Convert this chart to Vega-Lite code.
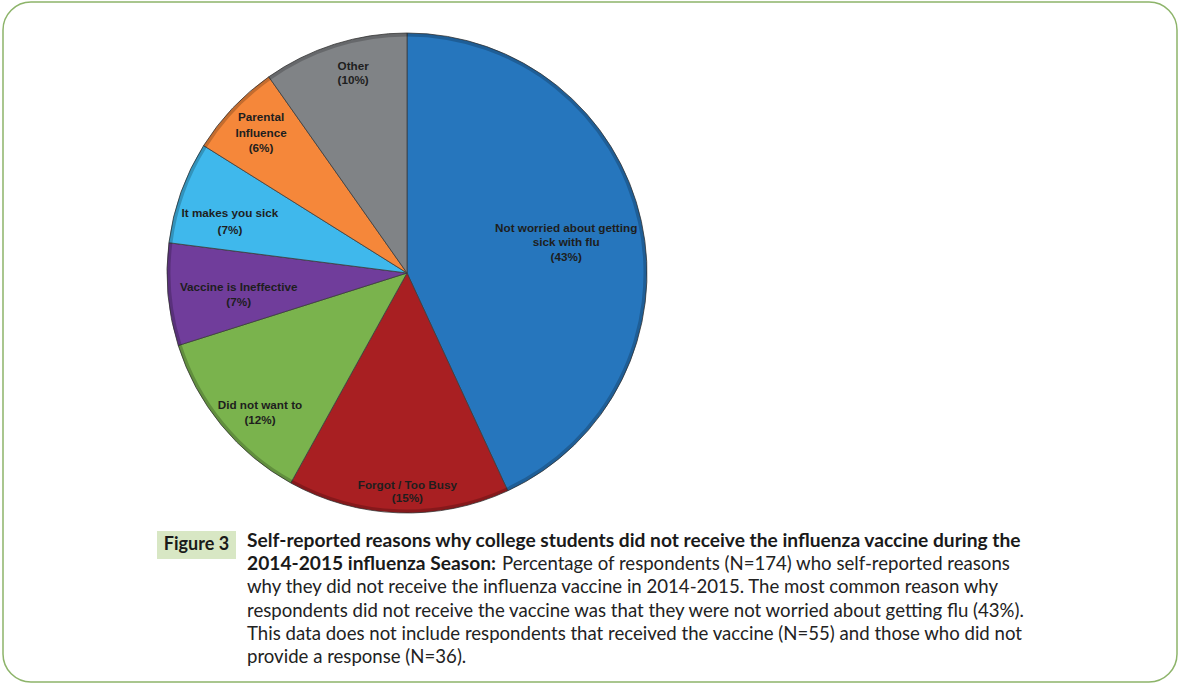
{
  "$schema": "https://vega.github.io/schema/vega-lite/v6.json",
  "width": 1178,
  "height": 683,
  "autosize": {"type": "fit", "contains": "padding"},
  "padding": {"left": 3, "top": 2, "right": 1, "bottom": 1},
  "background": "white",
  "config": {
    "view": {"stroke": "#8db46a", "strokeWidth": 1.5, "cornerRadius": 28}
  },
  "datasets": {
    "pie": [
      {"reason": "Not worried about getting sick with flu", "label": "Not worried about getting\nsick with flu\n(43%)", "n": 75, "ord": 1},
      {"reason": "Forgot / Too Busy", "label": "Forgot / Too Busy\n(15%)", "n": 26, "ord": 2},
      {"reason": "Did not want to", "label": "Did not want to\n(12%)", "n": 21, "ord": 3},
      {"reason": "Vaccine is Ineffective", "label": "Vaccine is Ineffective\n(7%)", "n": 12, "ord": 4},
      {"reason": "It makes you sick", "label": "It makes you sick\n(7%)", "n": 12, "ord": 5},
      {"reason": "Parental Influence", "label": "Parental\nInfluence\n(6%)", "n": 11, "ord": 6},
      {"reason": "Other", "label": "Other\n(10%)", "n": 17, "ord": 7}
    ],
    "caption": [
      {"line": 1, "style": "bold", "text": "Self-reported reasons why college students did not receive the influenza vaccine during the"},
      {"line": 2, "style": "bold", "text": "2014-2015 influenza Season:"},
      {"line": 2, "style": "cont", "text": "Percentage of respondents (N=174) who self-reported reasons"},
      {"line": 3, "style": "regular", "text": "why they did not receive the influenza vaccine in 2014-2015. The most common reason why"},
      {"line": 4, "style": "regular", "text": "respondents did not receive the vaccine was that they were not worried about getting flu (43%)."},
      {"line": 5, "style": "regular", "text": "This data does not include respondents that received the vaccine (N=55) and those who did not"},
      {"line": 6, "style": "regular", "text": "provide a response (N=36)."}
    ]
  },
  "layer": [
    {
      "data": {"name": "pie"},
      "encoding": {
        "x": {"value": 404},
        "y": {"value": 271},
        "theta": {"field": "n", "type": "quantitative", "stack": true},
        "order": {"field": "ord", "type": "quantitative"}
      },
      "layer": [
        {
          "mark": {"type": "arc", "radius": 240, "stroke": "#3c3c3c", "strokeWidth": 0.8},
          "encoding": {
            "color": {
              "field": "reason",
              "type": "nominal",
              "legend": null,
              "scale": {
                "domain": ["Not worried about getting sick with flu", "Forgot / Too Busy", "Did not want to", "Vaccine is Ineffective", "It makes you sick", "Parental Influence", "Other"],
                "range": ["#2676bd", "#a81f22", "#7ab34d", "#703d9b", "#3fb8ec", "#f5873a", "#808386"]
              }
            }
          }
        },
        {
          "mark": {"type": "arc", "radius": 240, "radius2": 236.5, "fill": "#000000", "fillOpacity": 0.2, "stroke": null},
          "encoding": {"detail": {"field": "reason", "type": "nominal"}}
        },
        {
          "mark": {"type": "text", "radius": 163, "dy": -10, "font": "Liberation Sans", "fontWeight": "bold", "fontSize": 11.7, "lineHeight": 14.5, "fill": "#1e1e1e", "lineBreak": "\n"},
          "encoding": {
            "detail": {"field": "reason", "type": "nominal"},
            "text": {"condition": {"test": "datum.ord === 1", "field": "label"}, "value": ""}
          }
        },
        {
          "mark": {"type": "text", "radius": 212, "dx": 8, "dy": 0, "font": "Liberation Sans", "fontWeight": "bold", "fontSize": 11.7, "lineHeight": 13.5, "fill": "#1e1e1e", "lineBreak": "\n"},
          "encoding": {
            "detail": {"field": "reason", "type": "nominal"},
            "text": {"condition": {"test": "datum.ord === 2", "field": "label"}, "value": ""}
          }
        },
        {
          "mark": {"type": "text", "radius": 190, "dy": 12, "font": "Liberation Sans", "fontWeight": "bold", "fontSize": 11.7, "lineHeight": 15, "fill": "#1e1e1e", "lineBreak": "\n"},
          "encoding": {
            "detail": {"field": "reason", "type": "nominal"},
            "text": {"condition": {"test": "datum.ord === 3", "field": "label"}, "value": ""}
          }
        },
        {
          "mark": {"type": "text", "radius": 169, "dy": -1, "font": "Liberation Sans", "fontWeight": "bold", "fontSize": 11.7, "lineHeight": 15, "fill": "#1e1e1e", "lineBreak": "\n"},
          "encoding": {
            "detail": {"field": "reason", "type": "nominal"},
            "text": {"condition": {"test": "datum.ord === 4", "field": "label"}, "value": ""}
          }
        },
        {
          "mark": {"type": "text", "radius": 188, "dy": 3, "font": "Liberation Sans", "fontWeight": "bold", "fontSize": 11.7, "lineHeight": 17, "fill": "#1e1e1e", "lineBreak": "\n"},
          "encoding": {
            "detail": {"field": "reason", "type": "nominal"},
            "text": {"condition": {"test": "datum.ord === 5", "field": "label"}, "value": ""}
          }
        },
        {
          "mark": {"type": "text", "radius": 201, "dy": -17.5, "font": "Liberation Sans", "fontWeight": "bold", "fontSize": 11.7, "lineHeight": 15.5, "fill": "#1e1e1e", "lineBreak": "\n"},
          "encoding": {
            "detail": {"field": "reason", "type": "nominal"},
            "text": {"condition": {"test": "datum.ord === 6", "field": "label"}, "value": ""}
          }
        },
        {
          "mark": {"type": "text", "radius": 208, "dx": 9, "dy": -9, "font": "Liberation Sans", "fontWeight": "bold", "fontSize": 11.7, "lineHeight": 14, "fill": "#1e1e1e", "lineBreak": "\n"},
          "encoding": {
            "detail": {"field": "reason", "type": "nominal"},
            "text": {"condition": {"test": "datum.ord === 7", "field": "label"}, "value": ""}
          }
        }
      ]
    },
    {
      "data": {"values": [{"tag": "Figure 3"}]},
      "mark": {"type": "rect", "fill": "#d8e7c4"},
      "encoding": {
        "x": {"value": 154},
        "x2": {"value": 233},
        "y": {"value": 529},
        "y2": {"value": 557}
      }
    },
    {
      "data": {"values": [{"tag": "Figure 3"}]},
      "mark": {"type": "text", "font": "Lato", "fontWeight": "bold", "fontSize": 18, "fill": "#1a1a1a", "align": "center", "baseline": "middle"},
      "encoding": {
        "x": {"value": 193.5},
        "y": {"value": 543},
        "text": {"field": "tag"}
      }
    },
    {
      "data": {"name": "caption"},
      "transform": [{"filter": "datum.style === 'bold'"}],
      "mark": {"type": "text", "font": "Lato", "fontWeight": "bold", "fontSize": 19.2, "fill": "#1a1a1a", "align": "left", "baseline": "middle"},
      "encoding": {
        "x": {"value": 244},
        "y": {"field": "line", "type": "quantitative", "axis": null, "scale": {"domain": [1, 6], "range": [539, 655]}},
        "text": {"field": "text"}
      }
    },
    {
      "data": {"name": "caption"},
      "transform": [{"filter": "datum.style === 'cont'"}],
      "mark": {"type": "text", "font": "Lato", "fontSize": 18.6, "fill": "#222222", "align": "left", "baseline": "middle", "dx": 6},
      "encoding": {
        "x": {"value": 493},
        "y": {"field": "line", "type": "quantitative", "axis": null, "scale": {"domain": [1, 6], "range": [539, 655]}},
        "text": {"field": "text"}
      }
    },
    {
      "data": {"name": "caption"},
      "transform": [{"filter": "datum.style === 'regular'"}],
      "mark": {"type": "text", "font": "Lato", "fontSize": 18.6, "fill": "#222222", "align": "left", "baseline": "middle"},
      "encoding": {
        "x": {"value": 244},
        "y": {"field": "line", "type": "quantitative", "axis": null, "scale": {"domain": [1, 6], "range": [539, 655]}},
        "text": {"field": "text"}
      }
    }
  ]
}
